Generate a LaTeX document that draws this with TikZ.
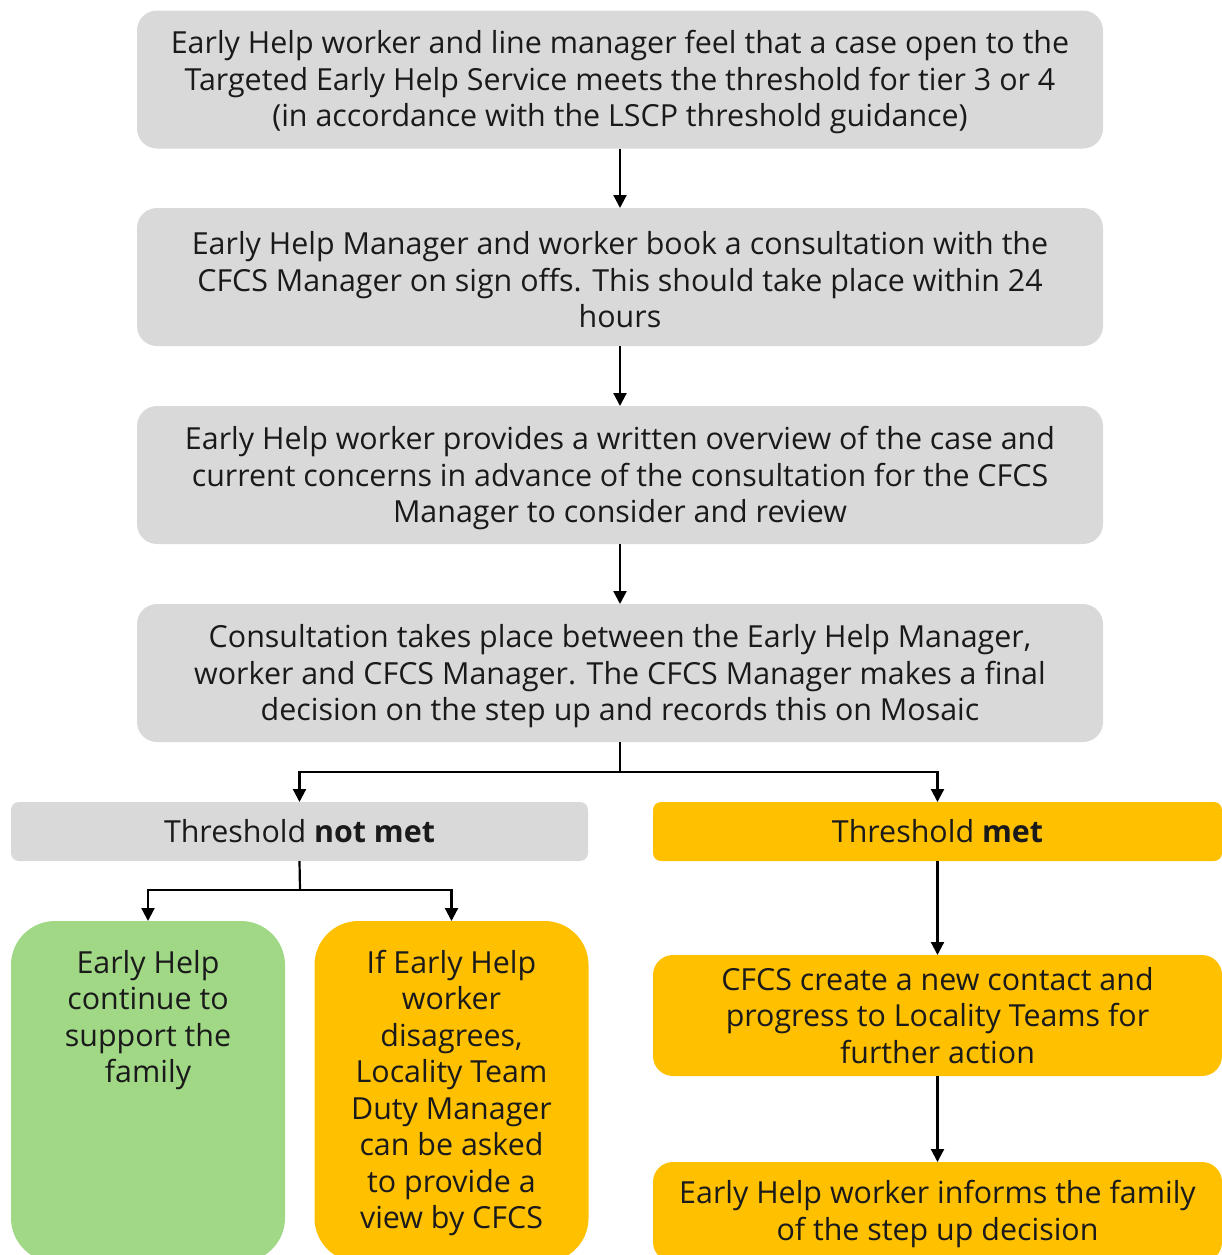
\documentclass[tikz,border=0pt]{standalone}
\usepackage{fontspec}
\setmainfont{Open Sans}
\usetikzlibrary{arrows.meta}
\definecolor{boxgray}{HTML}{D9D9D9}
\definecolor{boxamber}{HTML}{FFC000}
\definecolor{boxgreen}{HTML}{A0D886}
\definecolor{ink}{HTML}{1A1A1A}
\begin{document}
\begin{tikzpicture}[x=0.5pt,y=-0.5pt,
  every node/.style={inner sep=0pt, outer sep=0pt, text=ink,
    font=\fontsize{15.2pt}{18.25pt}\selectfont, align=center},
  card/.style={rounded corners=10pt},
  graybox/.style={card, fill=boxgray, minimum width=483pt, minimum height=69pt},
  tagbox/.style={rounded corners=4pt, minimum height=29.5pt},
  tallbox/.style={rounded corners=22pt, minimum width=137pt, minimum height=170.5pt},
  arr/.style={draw=black, line width=1.1pt, -{Triangle[length=6.5pt,width=6.5pt]}},
  link/.style={draw=black, line width=1.1pt}]
\useasboundingbox (0,0) rectangle (1222,1255);
\clip (0,0) rectangle (1222,1255);

% main sequence of steps
\node[graybox] (b1) at (620,79.5) {};
\node (b1text) at (620,82.5) {Early Help worker and line manager feel that a case open to the\\Targeted Early Help Service meets the threshold for tier 3 or 4\\(in accordance with the LSCP threshold guidance)};
\node[graybox] (b2) at (620,277) {};
\node (b2text) at (620,280) {Early Help Manager and worker book a consultation with the\\CFCS Manager on sign offs. This should take place within 24\\hours};
\node[graybox] (b3) at (620,475) {};
\node (b3text) at (620,478.5) {Early Help worker provides a written overview of the case and\\current concerns in advance of the consultation for the CFCS\\Manager to consider and review};
\node[graybox] (b4) at (620,673) {};
\node (b4text) at (620,676.5) {Consultation takes place between the Early Help Manager,\\worker and CFCS Manager. The CFCS Manager makes a final\\decision on the step up and records this on Mosaic};

\draw[arr] (b1.south) -- (b2.north);
\draw[arr] (b2.south) -- (b3.north);
\draw[arr] (b3.south) -- (b4.north);

% outcome of the consultation
\node[tagbox, fill=boxgray, minimum width=288.5pt] (notmet) at (299.5,831.5) {Threshold \textbf{not met}};
\node[tagbox, fill=boxamber, minimum width=284.5pt] (met) at (937.5,831.5) {Threshold \textbf{met}};

\coordinate (split) at (620,772);
\draw[link] (b4.south) -- (split);
\draw[arr] (split) -| (notmet.north);
\draw[arr] (split) -| (met.north);

% threshold not met branch
\node[tallbox, fill=boxgreen] (cont) at (148,1091.5) {};
\node (conttext) at (148,1020) {Early Help\\continue to\\support the\\family};
\node[tallbox, fill=boxamber] (esc) at (451.5,1091.5) {};
\node (esctext) at (451.5,1093) {If Early Help\\worker\\disagrees,\\Locality Team\\Duty Manager\\can be asked\\to provide a\\view by CFCS};

\coordinate (fork) at (300,890);
\draw[link] (notmet.south) -- (fork);
\draw[arr] (fork) -| (cont.north);
\draw[arr] (fork) -| (esc.north);

% threshold met branch
\node[card, fill=boxamber, minimum width=284.5pt, minimum height=60.5pt] (contact) at (937.5,1015.5) {CFCS create a new contact and\\progress to Locality Teams for\\further action};
\node[card, fill=boxamber, minimum width=284.5pt, minimum height=50pt] (inform) at (937.5,1212) {};
\node (informtext) at (937.5,1214) {Early Help worker informs the family\\of the step up decision};

\draw[arr] (met.south) -- (contact.north);
\draw[arr] (contact.south) -- (inform.north);
\end{tikzpicture}
\end{document}
